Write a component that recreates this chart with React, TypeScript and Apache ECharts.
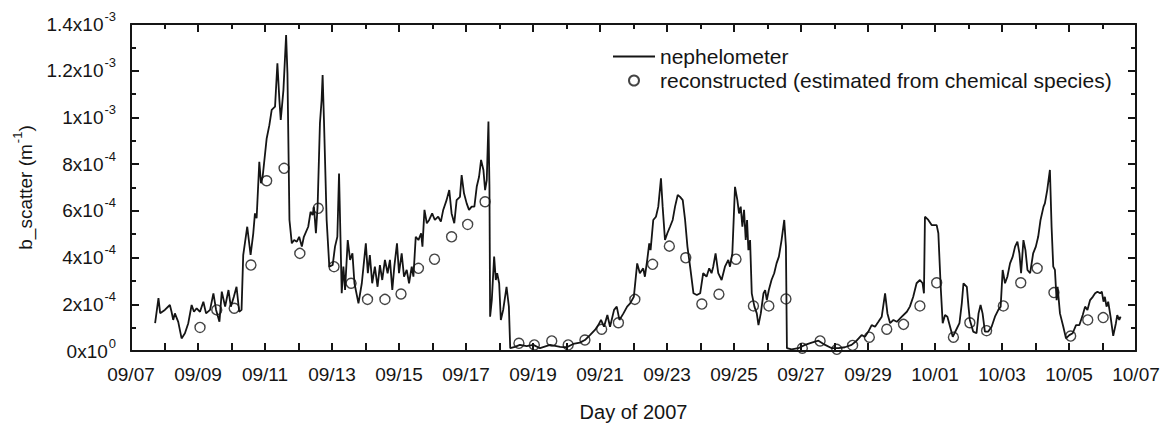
import React, { useEffect, useRef } from "react";
import * as echarts from "echarts";

// Days are counted from 09/07/2007 00:00; scattering values are in units of 1e-4 m^-1.
const X_TICK_LABELS = [
  "09/07", "09/09", "09/11", "09/13", "09/15", "09/17", "09/19", "09/21",
  "09/23", "09/25", "09/27", "09/29", "10/01", "10/03", "10/05", "10/07",
];
const Y_TICK_MANTISSA = ["0", "2", "4", "6", "8", "1", "1.2", "1.4"];
const Y_TICK_EXPONENT = ["0", "-4", "-4", "-4", "-4", "-3", "-3", "-3"];

const NEPH_DAY = [
  0.72, 0.82, 0.87, 1.01, 1.16, 1.21, 1.26, 1.31, 1.41, 1.51, 1.61, 1.71, 1.81, 1.88, 1.96,
  2.06, 2.16, 2.24, 2.36, 2.46, 2.54, 2.64, 2.71, 2.81, 2.91, 2.98, 3.07, 3.15, 3.23, 3.30,
  3.35, 3.47, 3.57, 3.65, 3.70, 3.75, 3.83, 3.88, 3.93, 4.05, 4.13, 4.20, 4.30, 4.37, 4.43,
  4.47, 4.55, 4.63, 4.67, 4.73, 4.80, 4.87, 4.95, 5.02, 5.10, 5.16, 5.29, 5.36, 5.42, 5.46,
  5.52, 5.57, 5.64, 5.69, 5.72, 5.76, 5.84, 5.92, 6.02, 6.09, 6.16, 6.21, 6.29, 6.34, 6.39,
  6.47, 6.54, 6.61, 6.67, 6.79, 6.89, 7.01, 7.07, 7.13, 7.20, 7.28, 7.36, 7.43, 7.50, 7.58,
  7.66, 7.73, 7.80, 7.86, 7.94, 8.00, 8.08, 8.15, 8.23, 8.30, 8.38, 8.43, 8.50, 8.58, 8.66,
  8.70, 8.76, 8.83, 8.90, 8.99, 9.07, 9.17, 9.25, 9.32, 9.42, 9.50, 9.57, 9.65, 9.72, 9.82,
  9.87, 9.94, 10.02, 10.09, 10.17, 10.25, 10.32, 10.39, 10.45, 10.52, 10.57, 10.62, 10.67,
  10.70, 10.72, 10.77, 10.84, 10.89, 10.93, 10.99, 11.04, 11.11, 11.21, 11.28, 11.32, 11.46,
  11.61, 11.81, 12.01, 12.21, 12.51, 12.81, 13.01, 13.20, 13.40, 13.55, 13.70, 13.85, 13.95,
  14.03, 14.12, 14.22, 14.30, 14.42, 14.50, 14.58, 14.70, 14.81, 14.90, 15.01, 15.11, 15.19,
  15.29, 15.34, 15.41, 15.47, 15.51, 15.59, 15.67, 15.74, 15.82, 15.87, 15.94, 16.01, 16.09,
  16.17, 16.24, 16.32, 16.39, 16.47, 16.54, 16.61, 16.69, 16.79, 16.89, 16.99, 17.08, 17.18,
  17.26, 17.33, 17.38, 17.45, 17.53, 17.63, 17.73, 17.83, 17.88, 17.95, 18.03, 18.10, 18.15,
  18.20, 18.25, 18.30, 18.35, 18.39, 18.43, 18.48, 18.53, 18.61, 18.68, 18.73, 18.80, 18.88,
  18.93, 18.98, 19.04, 19.12, 19.20, 19.27, 19.34, 19.42, 19.50, 19.55, 19.58, 19.72, 19.92,
  20.12, 20.32, 20.52, 20.72, 20.92, 21.12, 21.31, 21.51, 21.66, 21.81, 21.91, 22.01, 22.11,
  22.21, 22.31, 22.41, 22.51, 22.58, 22.66, 22.76, 22.86, 23.01, 23.16, 23.25, 23.35, 23.45,
  23.55, 23.63, 23.67, 23.70, 23.80, 23.90, 24.05, 24.10, 24.17, 24.23, 24.30, 24.37, 24.45,
  24.53, 24.63, 24.73, 24.80, 24.85, 24.95, 25.00, 25.04, 25.14, 25.24, 25.30, 25.36, 25.42,
  25.49, 25.59, 25.69, 25.79, 25.89, 25.96, 26.02, 26.09, 26.16, 26.24, 26.32, 26.39, 26.46,
  26.52, 26.57, 26.64, 26.70, 26.76, 26.84, 26.93, 27.01, 27.08, 27.15, 27.24, 27.28, 27.35,
  27.43, 27.48, 27.53, 27.58, 27.63, 27.66, 27.73, 27.83, 27.91, 28.01, 28.11, 28.21, 28.31,
  28.41, 28.48, 28.55, 28.63, 28.71, 28.78, 28.85, 28.93, 28.98, 29.03, 29.07, 29.12, 29.17,
  29.24, 29.32, 29.40, 29.44, 29.50, 29.54,
];
const NEPH_VAL = [
  1.19, 2.26, 1.62, 1.76, 1.97, 1.68, 1.33, 1.61, 1.25, 0.54, 0.76, 1.19, 1.97, 1.68, 1.83,
  1.68, 2.11, 1.61, 1.76, 2.47, 1.76, 1.25, 2.54, 1.90, 2.61, 1.90, 2.32, 2.75, 1.68, 1.76,
  4.11, 5.32, 4.11, 5.04, 5.89, 5.68, 8.10, 7.18, 7.46, 9.10, 9.67, 10.32, 10.46, 12.32, 10.74,
  9.89, 11.17, 13.53, 11.89, 5.61, 4.61, 4.75, 4.68, 4.89, 4.47, 4.89, 5.32, 5.96, 5.82, 6.18,
  5.04, 6.18, 9.75, 10.74, 11.82, 9.89, 5.61, 3.61, 3.68, 4.47, 4.89, 7.60, 2.47, 3.61, 2.61,
  4.75, 3.90, 4.18, 2.90, 2.04, 2.90, 4.61, 3.33, 4.11, 2.90, 3.61, 2.75, 3.68, 3.04, 3.90,
  3.33, 3.90, 2.61, 3.61, 4.61, 3.33, 4.18, 3.18, 3.47, 2.90, 3.61, 3.18, 4.89, 4.75, 5.04,
  4.47, 6.04, 5.47, 5.61, 5.89, 5.61, 5.75, 5.54, 6.04, 6.46, 6.89, 5.89, 5.47, 6.46, 6.60,
  7.53, 6.75, 6.32, 6.04, 6.18, 6.18, 7.03, 7.46, 8.18, 7.75, 6.89, 7.32, 9.82,
  7.03, 1.47, 2.18, 4.04, 3.04, 3.33, 2.90, 1.33, 1.76, 2.75, 1.90, 0.12, 0.18,
  0.26, 0.21, 0.26, 0.12, 0.26, 0.18, 0.16, 0.30, 0.36, 0.47, 0.68, 0.90, 1.11,
  1.33, 1.04, 1.54, 1.04, 1.76, 1.90, 1.33, 1.61, 1.90, 2.04, 2.32, 3.75, 3.33,
  3.54, 3.18, 3.90, 4.61, 4.32, 5.61, 5.75, 6.18, 7.39, 6.18, 4.75, 5.04, 5.32,
  5.61, 6.18, 6.68, 6.60, 6.46, 5.61, 4.47, 3.61, 2.47, 2.40, 2.47, 3.33, 3.18,
  3.54, 3.33, 3.61, 4.18, 3.33, 3.04, 3.61, 3.90, 3.61, 4.18, 7.03, 6.46, 5.89,
  6.18, 5.32, 6.04, 4.75, 5.61, 4.32, 4.75, 2.47, 1.90, 1.61, 1.11, 1.61, 2.47,
  2.61, 2.18, 2.61, 3.04, 3.33, 3.75, 4.04, 4.75, 5.61, 4.47, 0.12, 0.07, 0.12,
  0.26, 0.36, 0.44, 0.26, 0.12, 0.12, 0.16, 0.26, 0.44, 0.68, 0.61, 0.83, 1.11,
  1.04, 1.25, 1.47, 2.47, 1.61, 1.19, 1.33, 1.25, 1.47, 1.68, 1.90, 2.32, 2.90,
  3.04, 2.90, 2.47, 5.75, 5.61, 5.39, 5.39, 5.04, 2.75, 1.19, 1.54, 1.47, 1.04,
  0.61, 0.90, 1.19, 2.04, 2.90, 2.75, 1.90, 1.33, 0.83, 0.76, 1.61, 1.97, 1.61,
  0.83, 0.83, 1.04, 1.47, 1.76, 1.90, 3.47, 2.90, 3.18, 3.75, 4.04, 4.47, 4.68,
  4.18, 3.33, 4.75, 4.32, 3.47, 3.33, 4.18, 4.47, 4.89, 5.61, 6.18, 6.32, 6.89,
  7.75, 5.32, 3.61, 3.47, 2.18, 2.75, 1.61, 1.04, 0.54, 0.68, 0.76, 1.11, 1.11,
  1.54, 1.90, 1.76, 2.18, 2.32, 2.47, 2.54, 2.47, 2.54, 2.11, 2.32, 1.90, 2.11,
  1.47, 0.65, 1.19, 1.54, 1.33, 1.47,
];

const RECON_DAY = [
  2.06, 2.56, 3.08, 3.58, 4.05, 4.57, 5.04, 5.59, 6.06, 6.57, 7.06, 7.58, 8.06, 8.58,
  9.06, 9.57, 10.05, 10.57, 11.58, 12.04, 12.56, 13.05, 13.55, 14.05, 14.55, 15.04, 15.57,
  16.07, 16.56, 17.04, 17.55, 18.06, 18.58, 19.04, 19.55, 20.04, 20.57, 21.07, 21.54,
  22.04, 22.56, 23.06, 23.55, 24.05, 24.55, 25.04, 25.54, 26.04, 26.56, 27.05, 27.55,
  28.05, 28.56, 29.02,
];
const RECON_VAL = [
  1.01, 1.76, 1.83, 3.68, 7.29, 7.82, 4.18, 6.11, 3.61, 2.90, 2.21, 2.21, 2.44, 3.54,
  3.93, 4.89, 5.42, 6.39, 0.33, 0.26, 0.43, 0.26, 0.47, 0.93, 1.21, 2.21, 3.71,
  4.49, 3.99, 2.01, 2.43, 3.93, 1.93, 1.93, 2.23, 0.12, 0.43, 0.07, 0.24,
  0.59, 0.93, 1.14, 1.93, 2.92, 0.59, 1.21, 0.87, 1.93, 2.92, 3.54, 2.50,
  0.64, 1.33, 1.43,
];

const FONT = '"Liberation Sans", Arial, Helvetica, sans-serif';
const INK = "#151515";

// Frame axes: line, inward major ticks and (optionally) inward minor ticks.
function frameAxis(position: string, max: number, interval: number, withMinor: boolean) {
  return {
    type: "value",
    position,
    min: 0,
    max,
    interval,
    axisLine: { show: true, onZero: false, lineStyle: { color: INK, width: 2 } },
    axisTick: { show: true, inside: true, length: 8, lineStyle: { color: INK, width: 2 } },
    minorTick: {
      show: withMinor,
      splitNumber: 2,
      length: 5,
      lineStyle: { color: INK, width: 2 },
    },
    splitLine: { show: false },
    minorSplitLine: { show: false },
  };
}

export default function App() {
  const ref = useRef<HTMLDivElement>(null);

  useEffect(() => {
    if (!ref.current) return;
    const chart = echarts.init(ref.current, null, { renderer: "svg" });

    const neph = NEPH_DAY.map((d, i) => [d, NEPH_VAL[i]]);
    const recon = RECON_DAY.map((d, i) => [d, RECON_VAL[i]]);

    chart.setOption({
      animation: false,
      textStyle: { fontFamily: FONT, color: INK },
      grid: { left: 131, right: 25, top: 24, bottom: 73, outerBoundsMode: "none" },
      legend: {
        orient: "vertical",
        left: 607,
        top: 41,
        itemWidth: 42,
        itemHeight: 10,
        itemGap: 3,
        textStyle: { fontSize: 21, color: INK, fontFamily: FONT },
        data: [
          { name: "nephelometer", itemStyle: { opacity: 0 } },
          { name: "reconstructed (estimated from chemical species)", icon: "circle" },
        ],
      },
      xAxis: [
        {
          ...frameAxis("bottom", 30, 1, false),
          axisLabel: {
            show: true,
            fontSize: 19,
            color: INK,
            margin: 14,
            fontFamily: FONT,
            formatter: (v: number) => (v % 2 === 0 ? X_TICK_LABELS[v / 2] : ""),
          },
          name: "Day of 2007",
          nameLocation: "middle",
          nameGap: 51,
          nameTextStyle: { fontSize: 20, color: INK, fontFamily: FONT },
        },
        { ...frameAxis("top", 30, 2, true), axisLabel: { show: false } },
      ],
      yAxis: [
        {
          ...frameAxis("left", 14, 2, true),
          axisLabel: {
            show: true,
            margin: 15,
            color: INK,
            fontFamily: FONT,
            formatter: (v: number) => {
              const i = Math.round(v / 2);
              return `{m|${Y_TICK_MANTISSA[i]}x10}{e|${Y_TICK_EXPONENT[i]}}`;
            },
            rich: {
              m: { fontSize: 19, color: INK, fontFamily: FONT },
              e: { fontSize: 13, color: INK, fontFamily: FONT, padding: [0, 0, 16, 1] },
            },
          },
          name: "b_scatter (m{e|-1})",
          nameLocation: "middle",
          nameGap: 90,
          nameTextStyle: {
            fontSize: 19,
            color: INK,
            fontFamily: FONT,
            rich: { e: { fontSize: 13, color: INK, fontFamily: FONT, padding: [0, 0, 16, 1] } },
          },
        },
        { ...frameAxis("right", 14, 2, true), axisLabel: { show: false } },
      ],
      series: [
        {
          name: "nephelometer",
          type: "line",
          data: neph,
          symbol: "none",
          lineStyle: { color: INK, width: 1.8 },
          itemStyle: { color: INK },
          z: 2,
        },
        {
          name: "reconstructed (estimated from chemical species)",
          type: "scatter",
          data: recon,
          symbol: "circle",
          symbolSize: 10,
          itemStyle: { color: "rgba(255,255,255,0)", borderColor: INK, borderWidth: 1.4 },
          z: 3,
        },
      ],
    });

    return () => chart.dispose();
  }, []);

  return (
    <div
      ref={ref}
      style={{ position: "fixed", left: 0, top: 0, width: 1161, height: 424, background: "#fff" }}
    />
  );
}
